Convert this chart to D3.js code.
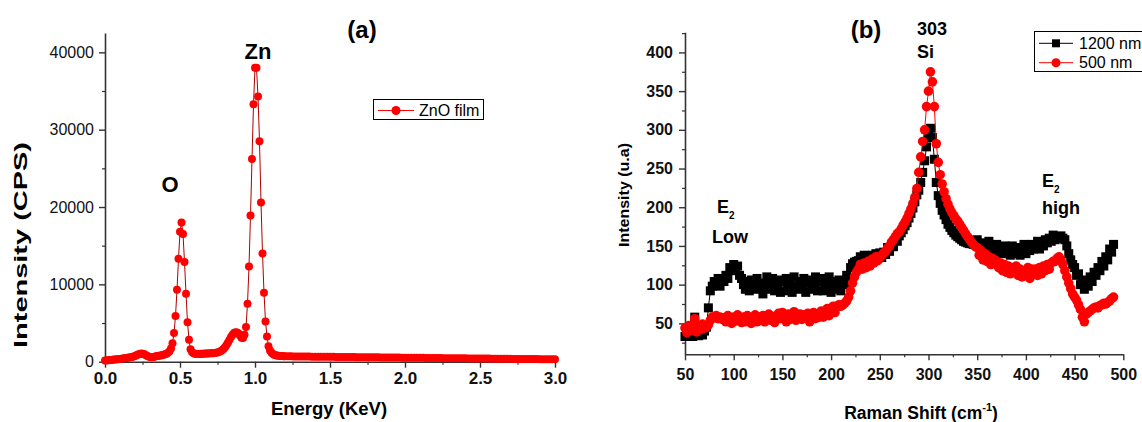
<!DOCTYPE html>
<html>
<head>
<meta charset="utf-8">
<script src="https://cdn.jsdelivr.net/npm/d3@7"></script>
<style>
  body { margin: 0; background: #fff; }
  svg { display: block; font-family: "Liberation Sans", Arial, sans-serif; }
</style>
</head>
<body>
<svg id="chart" width="1142" height="422"></svg>
<script>
// ---------- (a) EDS spectrum of the ZnO film ----------
// counts per channel, 0.00–1.20 keV in 0.01 keV steps
const edsCountsLow = [
  150,170,190,210,230,250,270,290,310,330,
  350,380,410,440,470,500,540,580,620,680,
  750,830,920,1000,1050,1040,980,880,760,660,
  600,590,610,650,690,730,770,810,850,900,
  960,1040,1150,1350,1700,2400,3700,5900,9300,13300,
  16800,18000,16500,12900,8800,5100,2850,1600,1250,1080,
  1020,1000,1000,1010,1020,1030,1040,1050,1060,1070,
  1080,1090,1100,1120,1150,1190,1250,1340,1470,1650,
  1880,2150,2480,2850,3200,3500,3700,3800,3780,3650,
  3400,3100,3050,3500,4500,7500,12300,18900,26200,33300,
  38000,38000,34300,28500,20600,14000,8900,5200,3250,2000,
  1450,1150,980,880,820,780,760,740,730,720,
  710
];
// counts per channel, 1.22–3.00 keV in 0.02 keV steps
const edsCountsHigh = [
  700,690,685,680,675,670,665,660,655,650,
  645,640,640,635,630,625,620,615,610,605,
  600,600,595,590,585,580,575,575,570,565,
  560,555,550,545,540,540,535,530,525,520,
  515,510,505,500,500,495,490,485,480,475,
  470,465,460,455,450,450,445,440,435,430,
  425,420,420,415,410,405,400,400,395,390,
  385,380,375,375,370,365,360,355,355,350,
  345,340,340,335,330,330,325,320,320,315
];
const edsEnergy = d3.range(edsCountsLow.length).map(i => i / 100)
  .concat(d3.range(edsCountsHigh.length).map(i => (122 + 2 * i) / 100));
const edsCounts = edsCountsLow.concat(edsCountsHigh);
const edsXTicks = [0, 0.5, 1.0, 1.5, 2.0, 2.5, 3.0];
const edsXMinor = [0.25, 0.75, 1.25, 1.75, 2.25, 2.75];
const edsYTicks = [0, 10000, 20000, 30000, 40000];
const edsYMinor = [5000, 15000, 25000, 35000];

// ---------- (b) Raman spectra ----------
const ramanShift = d3.range(50, 491, 2);
const raman1200 = [
  33,38,34,37,33,58,38,34,39,35,
  40,45,70,92,98,104,100,108,98,106,
  104,112,108,122,118,126,120,124,112,108,
  100,94,104,92,106,98,94,108,96,102,
  88,96,110,104,94,108,92,102,106,90,
  104,92,108,96,102,90,110,98,94,104,
  96,108,90,102,106,94,100,110,92,104,
  108,92,102,96,110,90,104,94,100,106,
  92,104,100,112,108,122,127,129,130,131,
  136,128,138,130,135,129,138,132,140,134,
  141,135,142,139,148,143,152,149,158,156,
  163,167,171,176,180,186,192,199,207,216,
  222,232,245,260,278,293,302,290,262,232,
  215,205,196,190,184,178,174,170,167,164,
  162,160,158,156,155,154,153,153,152,152,
  158,150,154,146,152,144,156,148,150,142,
  152,143,148,140,150,144,146,138,150,142,
  140,148,138,146,152,140,148,144,152,146,
  150,156,146,155,150,158,154,160,156,164,
  158,160,162,163,160,158,150,140,132,126,
  122,112,114,100,106,94,104,98,110,104,
  116,112,122,118,130,124,136,132,146,142,
  152
];
const raman500 = [
  44,38,47,41,48,56,39,46,42,49,
  44,45,48,54,58,57,60,56,58,55,
  57,52,60,54,50,58,53,61,55,51,
  58,52,60,55,50,57,61,52,58,54,
  60,52,57,62,54,59,51,58,63,56,
  64,57,52,62,55,60,65,54,59,62,
  55,61,57,63,52,60,64,56,62,58,
  66,58,64,69,60,67,72,64,71,74,
  72,74,76,79,84,92,102,110,116,120,
  126,120,128,122,130,124,133,128,136,131,
  136,138,141,143,147,150,155,158,162,166,
  168,172,177,181,186,192,198,205,213,224,
  245,265,285,300,330,350,375,362,330,282,
  258,242,230,220,211,204,198,193,189,185,
  182,178,174,170,166,162,159,155,152,149,
  148,138,144,132,140,130,136,126,134,128,
  130,122,128,118,126,116,124,114,122,116,
  124,112,120,110,118,114,122,108,120,114,
  120,112,122,114,124,118,126,120,128,130,
  130,134,136,132,126,118,110,102,95,88,
  84,80,74,68,58,52,62,64,66,68,
  70,71,70,73,74,76,75,77,79,82,
  84
];
const ramanXTicks = [50, 100, 150, 200, 250, 300, 350, 400, 450, 500];
const ramanXMinor = [75, 125, 175, 225, 275, 325, 375, 425, 475];
const ramanYTicks = [50, 100, 150, 200, 250, 300, 350, 400];
const ramanYMinor = [25, 75, 125, 175, 225, 275, 325, 375, 425];

const svg = d3.select("#chart");
const AXIS_COLOR = "#333";

function styleAxis(g, fontSize, weight) {
  g.select(".domain").attr("stroke", AXIS_COLOR).attr("stroke-width", 1.6);
  g.selectAll(".tick line").attr("stroke", AXIS_COLOR).attr("stroke-width", 1.4);
  g.selectAll(".tick text")
    .attr("fill", "#111")
    .style("font-size", fontSize + "px")
    .style("font-weight", weight)
    .style("font-family", '"Liberation Sans", Arial, sans-serif');
}

function minorTicks(g, axisFn, scale, values) {
  const m = g.append("g").call(axisFn(scale).tickValues(values).tickSize(3).tickSizeOuter(0).tickFormat(""));
  m.select(".domain").remove();
  m.selectAll(".tick line").attr("stroke", AXIS_COLOR).attr("stroke-width", 1.2);
}

// ================= Panel (a) =================
const xA = d3.scaleLinear().domain([0, 3]).range([105, 555]);
const yA = d3.scaleLinear().domain([0, 42500]).range([361.7, 33]);
const gA = svg.append("g");

const gAx = gA.append("g").attr("transform", `translate(0,${yA(0)})`);
minorTicks(gAx, d3.axisBottom, xA, edsXMinor);
gAx.append("g")
  .call(d3.axisBottom(xA).tickValues(edsXTicks).tickSize(6).tickSizeOuter(0).tickPadding(4).tickFormat(d3.format(".1f")))
  .call(g => styleAxis(g, 17, "bold"));

const gAy = gA.append("g").attr("transform", `translate(${xA(0)},0)`);
minorTicks(gAy, d3.axisLeft, yA, edsYMinor);
gAy.append("g")
  .call(d3.axisLeft(yA).tickValues(edsYTicks).tickSize(6).tickSizeOuter(0).tickPadding(5).tickFormat(d3.format("d")))
  .call(g => styleAxis(g, 16, "normal"));

const edsPts = edsEnergy.map((e, i) => [e, edsCounts[i]]);
gA.append("path")
  .datum(edsPts)
  .attr("fill", "none")
  .attr("stroke", "#b00000")
  .attr("stroke-width", 1)
  .attr("d", d3.line().x(d => xA(d[0])).y(d => yA(d[1])));
gA.append("g").selectAll("circle")
  .data(edsPts)
  .join("circle")
  .attr("cx", d => xA(d[0]))
  .attr("cy", d => yA(d[1]))
  .attr("r", 4)
  .attr("fill", "#ff0000");

// panel title, peak labels, axis titles
gA.append("text").attr("x", 362).attr("y", 38).attr("text-anchor", "middle")
  .style("font-size", "24px").style("font-weight", "bold").text("(a)");
gA.append("text").attr("x", 258).attr("y", 59).attr("text-anchor", "middle")
  .style("font-size", "22px").style("font-weight", "bold").text("Zn");
gA.append("text").attr("x", 170).attr("y", 192).attr("text-anchor", "middle")
  .style("font-size", "22px").style("font-weight", "bold").text("O");
gA.append("text").attr("x", 329).attr("y", 415).attr("text-anchor", "middle")
  .style("font-size", "18.5px").style("font-weight", "bold").text("Energy (KeV)");
gA.append("text").attr("transform", "translate(27,245) rotate(-90)").attr("text-anchor", "middle")
  .attr("textLength", 206).attr("lengthAdjust", "spacingAndGlyphs")
  .style("font-size", "19px").style("font-weight", "bold").text("Intensity (CPS)");

// legend
const legA = gA.append("g");
legA.append("rect").attr("x", 373.5).attr("y", 99.5).attr("width", 110).attr("height", 20)
  .attr("fill", "#fff").attr("stroke", "#000").attr("stroke-width", 1);
legA.append("line").attr("x1", 378).attr("x2", 414).attr("y1", 110.5).attr("y2", 110.5)
  .attr("stroke", "#ff0000").attr("stroke-width", 1);
legA.append("circle").attr("cx", 396).attr("cy", 110.5).attr("r", 4.5).attr("fill", "#ff0000");
legA.append("text").attr("x", 419).attr("y", 116).style("font-size", "16px").text("ZnO film");

// ================= Panel (b) =================
const xB = d3.scaleLinear().domain([50, 500]).range([685, 1123.3]);
const yB = d3.scaleLinear().domain([10, 426]).range([354.3, 32.3]);
const gB = svg.append("g");

const gBx = gB.append("g").attr("transform", `translate(0,${yB.range()[0]})`);
minorTicks(gBx, d3.axisBottom, xB, ramanXMinor);
gBx.append("g")
  .call(d3.axisBottom(xB).tickValues(ramanXTicks).tickSize(6).tickSizeOuter(0).tickPadding(8).tickFormat(d3.format("d")))
  .call(g => styleAxis(g, 16, "bold"));

const gBy = gB.append("g").attr("transform", `translate(${xB(50)},0)`);
minorTicks(gBy, d3.axisLeft, yB, ramanYMinor);
gBy.append("g")
  .call(d3.axisLeft(yB).tickValues(ramanYTicks).tickSize(6).tickSizeOuter(0).tickPadding(6).tickFormat(d3.format("d")))
  .call(g => styleAxis(g, 16, "bold"));

const pts1200 = ramanShift.map((s, i) => [s, raman1200[i]]);
const pts500 = ramanShift.map((s, i) => [s, raman500[i]]);
const lineB = d3.line().x(d => xB(d[0])).y(d => yB(d[1]));

gB.append("path").datum(pts1200).attr("fill", "none").attr("stroke", "#000").attr("stroke-width", 1).attr("d", lineB);
gB.append("g").selectAll("rect")
  .data(pts1200)
  .join("rect")
  .attr("x", d => xB(d[0]) - 4.5)
  .attr("y", d => yB(d[1]) - 4.5)
  .attr("width", 9)
  .attr("height", 9)
  .attr("fill", "#000");

gB.append("path").datum(pts500).attr("fill", "none").attr("stroke", "#ff0000").attr("stroke-width", 1).attr("d", lineB);
gB.append("g").selectAll("circle")
  .data(pts500)
  .join("circle")
  .attr("cx", d => xB(d[0]))
  .attr("cy", d => yB(d[1]))
  .attr("r", 4.8)
  .attr("fill", "#ff0000");

// panel title and band labels
gB.append("text").attr("x", 866).attr("y", 38).attr("text-anchor", "middle")
  .style("font-size", "24px").style("font-weight", "bold").text("(b)");
gB.append("text").attr("x", 917).attr("y", 35)
  .style("font-size", "18px").style("font-weight", "bold").text("303");
gB.append("text").attr("x", 917).attr("y", 58)
  .style("font-size", "18px").style("font-weight", "bold").text("Si");

function e2Label(x, y) {
  const t = gB.append("text").attr("x", x).attr("y", y)
    .style("font-size", "18px").style("font-weight", "bold");
  t.append("tspan").text("E");
  t.append("tspan").attr("dy", 6).style("font-size", "10px").text("2");
}
e2Label(717, 213);
gB.append("text").attr("x", 712).attr("y", 243)
  .style("font-size", "18px").style("font-weight", "bold").text("Low");
e2Label(1042, 187);
gB.append("text").attr("x", 1042).attr("y", 214)
  .style("font-size", "18px").style("font-weight", "bold").text("high");

// axis titles
const xTitleB = gB.append("text").attr("x", 921).attr("y", 419).attr("text-anchor", "middle")
  .style("font-size", "17.5px").style("font-weight", "bold");
xTitleB.append("tspan").text("Raman Shift (cm");
xTitleB.append("tspan").attr("dy", -8).style("font-size", "11px").text("-1");
xTitleB.append("tspan").attr("dy", 8).text(")");
gB.append("text").attr("transform", "translate(629,195) rotate(-90)").attr("text-anchor", "middle")
  .attr("textLength", 104).attr("lengthAdjust", "spacingAndGlyphs")
  .style("font-size", "15px").style("font-weight", "bold").text("Intensity (u.a)");

// legend
const legB = gB.append("g");
legB.append("rect").attr("x", 1034.5).attr("y", 31.5).attr("width", 130).attr("height", 40)
  .attr("fill", "#fff").attr("stroke", "#000").attr("stroke-width", 1);
legB.append("line").attr("x1", 1039).attr("x2", 1073).attr("y1", 43.3).attr("y2", 43.3)
  .attr("stroke", "#000").attr("stroke-width", 1);
legB.append("rect").attr("x", 1052).attr("y", 39.3).attr("width", 8).attr("height", 8).attr("fill", "#000");
legB.append("text").attr("x", 1079).attr("y", 48.5).style("font-size", "16px").text("1200 nm");
legB.append("line").attr("x1", 1039).attr("x2", 1073).attr("y1", 62.7).attr("y2", 62.7)
  .attr("stroke", "#ff0000").attr("stroke-width", 1);
legB.append("circle").attr("cx", 1056).attr("cy", 62.7).attr("r", 4.5).attr("fill", "#ff0000");
legB.append("text").attr("x", 1079).attr("y", 67.5).style("font-size", "16px").text("500 nm");
</script>
</body>
</html>
